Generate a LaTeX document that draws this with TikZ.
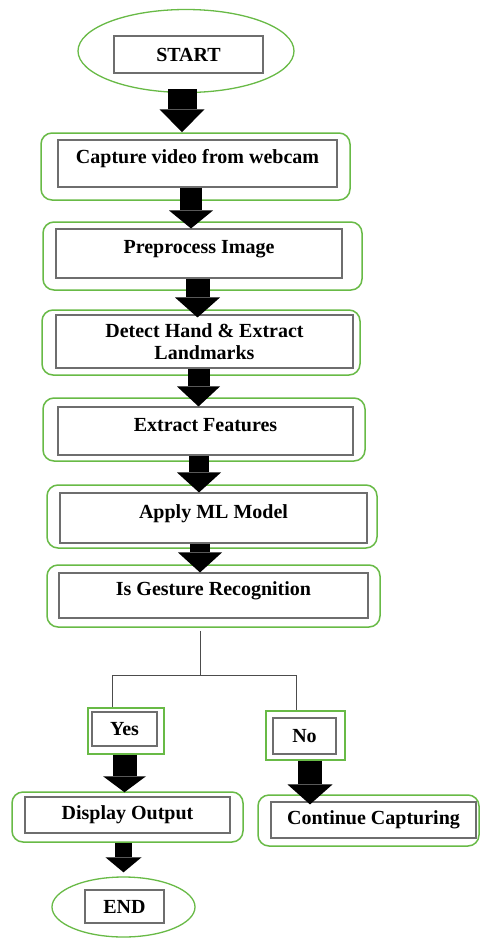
\documentclass[tikz,border=0pt]{standalone}
\usepackage{fontspec}
\setmainfont{Liberation Serif}
\usetikzlibrary{arrows.meta,shapes.geometric}
\definecolor{boxgreen}{RGB}{104,186,70}
\definecolor{innergray}{RGB}{110,110,110}
\begin{document}
\begin{tikzpicture}[x=1pt,y=-1pt,
  outerbox/.style={draw=boxgreen,line width=1.5pt,rounded corners=11pt,fill=white,inner sep=0pt},
  outersq/.style={draw=boxgreen,line width=1.5pt,fill=white,inner sep=0pt},
  outerell/.style={draw=boxgreen,line width=1.3pt,ellipse,fill=white,inner sep=0pt},
  innerbox/.style={draw=innergray,line width=1.1pt,fill=white,inner sep=0pt,
    font=\fontsize{20}{23}\selectfont\bfseries,align=center},
  txtup/.style={text height=14pt,text depth=14pt},
  blockarrow/.style n args={3}{line width=#1,draw=black,
    -{Triangle[length=#3,width=#2,line width=0pt]}},
  thinline/.style={draw=gray!60!black,line width=0.9pt}]
\useasboundingbox (0,0) rectangle (480,940);
\fill[white] (0,0) rectangle (480,940);

% START
\node[outerell,minimum width=216pt,minimum height=83pt] (startO) at (186,51) {};
\node[innerbox,minimum width=149pt,minimum height=37pt] (start) at (188.5,54.5) {START};

% Capture
\node[outerbox,minimum width=309pt,minimum height=67pt] (capO) at (195.5,166.5) {};
\node[innerbox,txtup,minimum width=279pt,minimum height=47pt] (cap) at (197.5,163.5) {Capture video from webcam};

% Preprocess
\node[outerbox,minimum width=319pt,minimum height=68pt] (preO) at (202.5,256) {};
\node[innerbox,txtup,minimum width=286pt,minimum height=49pt] (pre) at (199,253.5) {Preprocess Image};

% Detect
\node[outerbox,minimum width=318pt,minimum height=65pt] (detO) at (201,342.5) {};
\node[innerbox,minimum width=297pt,minimum height=53pt] (det) at (204.5,341.5) {Detect Hand \& Extract\\[-1pt]Landmarks};

% Extract features
\node[outerbox,minimum width=322pt,minimum height=63pt] (extO) at (204,429.5) {};
\node[innerbox,txtup,minimum width=295pt,minimum height=48pt] (ext) at (205.5,431) {Extract Features};

% Apply ML
\node[outerbox,minimum width=330pt,minimum height=63pt] (aplO) at (212,516.5) {};
\node[innerbox,txtup,minimum width=307pt,minimum height=50pt] (apl) at (213.5,518) {Apply ML Model};

% Gesture
\node[outerbox,minimum width=333pt,minimum height=62pt] (gesO) at (213.5,596) {};
\node[innerbox,txtup,minimum width=309pt,minimum height=45pt] (ges) at (213.5,595.5) {Is Gesture Recognition};

% Yes / No
\node[outersq,minimum width=76pt,minimum height=46pt] (yesO) at (126,731) {};
\node[innerbox,minimum width=65pt,minimum height=34pt] (yes) at (124.5,729) {Yes};
\node[outersq,minimum width=79pt,minimum height=49pt] (noO) at (305.5,735.5) {};
\node[innerbox,minimum width=63pt,minimum height=36pt] (no) at (304.5,736) {No};

% Display / Continue
\node[outerbox,minimum width=231pt,minimum height=50pt] (disO) at (127.5,817) {};
\node[innerbox,minimum width=205pt,minimum height=36pt] (dis) at (127.5,815) {Display Output};
\node[outerbox,minimum width=221pt,minimum height=51pt] (conO) at (368.5,820.5) {};
\node[innerbox,minimum width=205pt,minimum height=36pt] (con) at (373.5,820) {Continue Capturing};

% END
\node[outerell,minimum width=143pt,minimum height=60pt] (endO) at (123.5,907) {};
\node[innerbox,minimum width=79pt,minimum height=33pt] (end) at (124.5,906.5) {END};

% block arrows
\draw[blockarrow={29pt}{45pt}{23pt}] ([xshift=-4pt,yshift=4pt]startO.south) -- ([xshift=-13.5pt]capO.north);
\draw[blockarrow={22pt}{44pt}{18pt}] ([xshift=-6.5pt]cap.south) -- ([xshift=-8pt]pre.north);
\draw[blockarrow={24pt}{45pt}{20pt}] ([xshift=-1.5pt]pre.south) -- ([xshift=-7pt,yshift=-3pt]det.north);
\draw[blockarrow={22pt}{43pt}{20pt}] ([xshift=-6pt]det.south) -- ([xshift=-7pt]ext.north);
\draw[blockarrow={20pt}{44pt}{20pt}] ([xshift=-6.5pt]ext.south) -- ([xshift=-14.5pt]apl.north);
\draw[blockarrow={20pt}{44pt}{20pt}] ([xshift=-13.5pt]apl.south) -- ([xshift=-13.5pt]ges.north);
\draw[blockarrow={24pt}{43pt}{16pt}] ([xshift=-1.5pt]yesO.south) -- ([xshift=-3pt,yshift=-1pt]disO.north);
\draw[blockarrow={24pt}{45pt}{20pt}] ([xshift=4.5pt]noO.south) -- ([xshift=-63.5pt,yshift=-3pt]con.north);
\draw[blockarrow={17pt}{36pt}{15pt}] ([xshift=-4pt]disO.south) -- ([yshift=4pt]endO.north);

% decision connectors
\coordinate (split) at (200,675);
\coordinate (yl) at (112,675);
\coordinate (nr) at (296,675);
\draw[thinline] ([xshift=-13.5pt,yshift=-3pt]gesO.south) -- (split);
\draw[thinline] (yl) -- (nr);
\draw[thinline] (yl) -- (yl |- yesO.north);
\draw[thinline] (nr) -- (nr |- noO.north);
\end{tikzpicture}
\end{document}
